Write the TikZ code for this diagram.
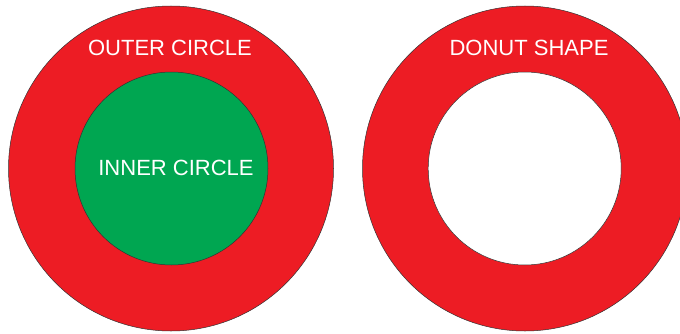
\documentclass[tikz,border=0pt]{standalone}
\usepackage{fontspec}
\setmainfont{Liberation Sans}
\usepackage{tikz}
\usetikzlibrary{positioning}

\definecolor{ringred}{HTML}{ED1C24}
\definecolor{coregreen}{HTML}{00A651}

\begin{document}
\begin{tikzpicture}[x=1pt, y=1pt, every node/.style={font=\fontsize{22}{26}\selectfont, text=white}]
\useasboundingbox (0,0) rectangle (680,333);
\node (outer) [circle, draw=black!80, line width=0.5pt, fill=ringred, minimum size=325pt] at (171,164.5) {};
\node (inner) [circle, draw=black!80, line width=0.5pt, fill=coregreen, minimum size=193pt] at (171.5,164.5) {};
\node (donut) [circle, draw=black!80, line width=0.5pt, fill=ringred, minimum size=325pt] at (525,164.5) {};
\node (hole) [circle, draw=black!80, line width=0.5pt, fill=white, minimum size=193pt] at (524.7,164.5) {};
\node (outerlbl) at (170,285) {OUTER CIRCLE};
\node (innerlbl) at (176,165) {INNER CIRCLE};
\node (donutlbl) at (529,285) {DONUT SHAPE};
\end{tikzpicture}
\end{document}
